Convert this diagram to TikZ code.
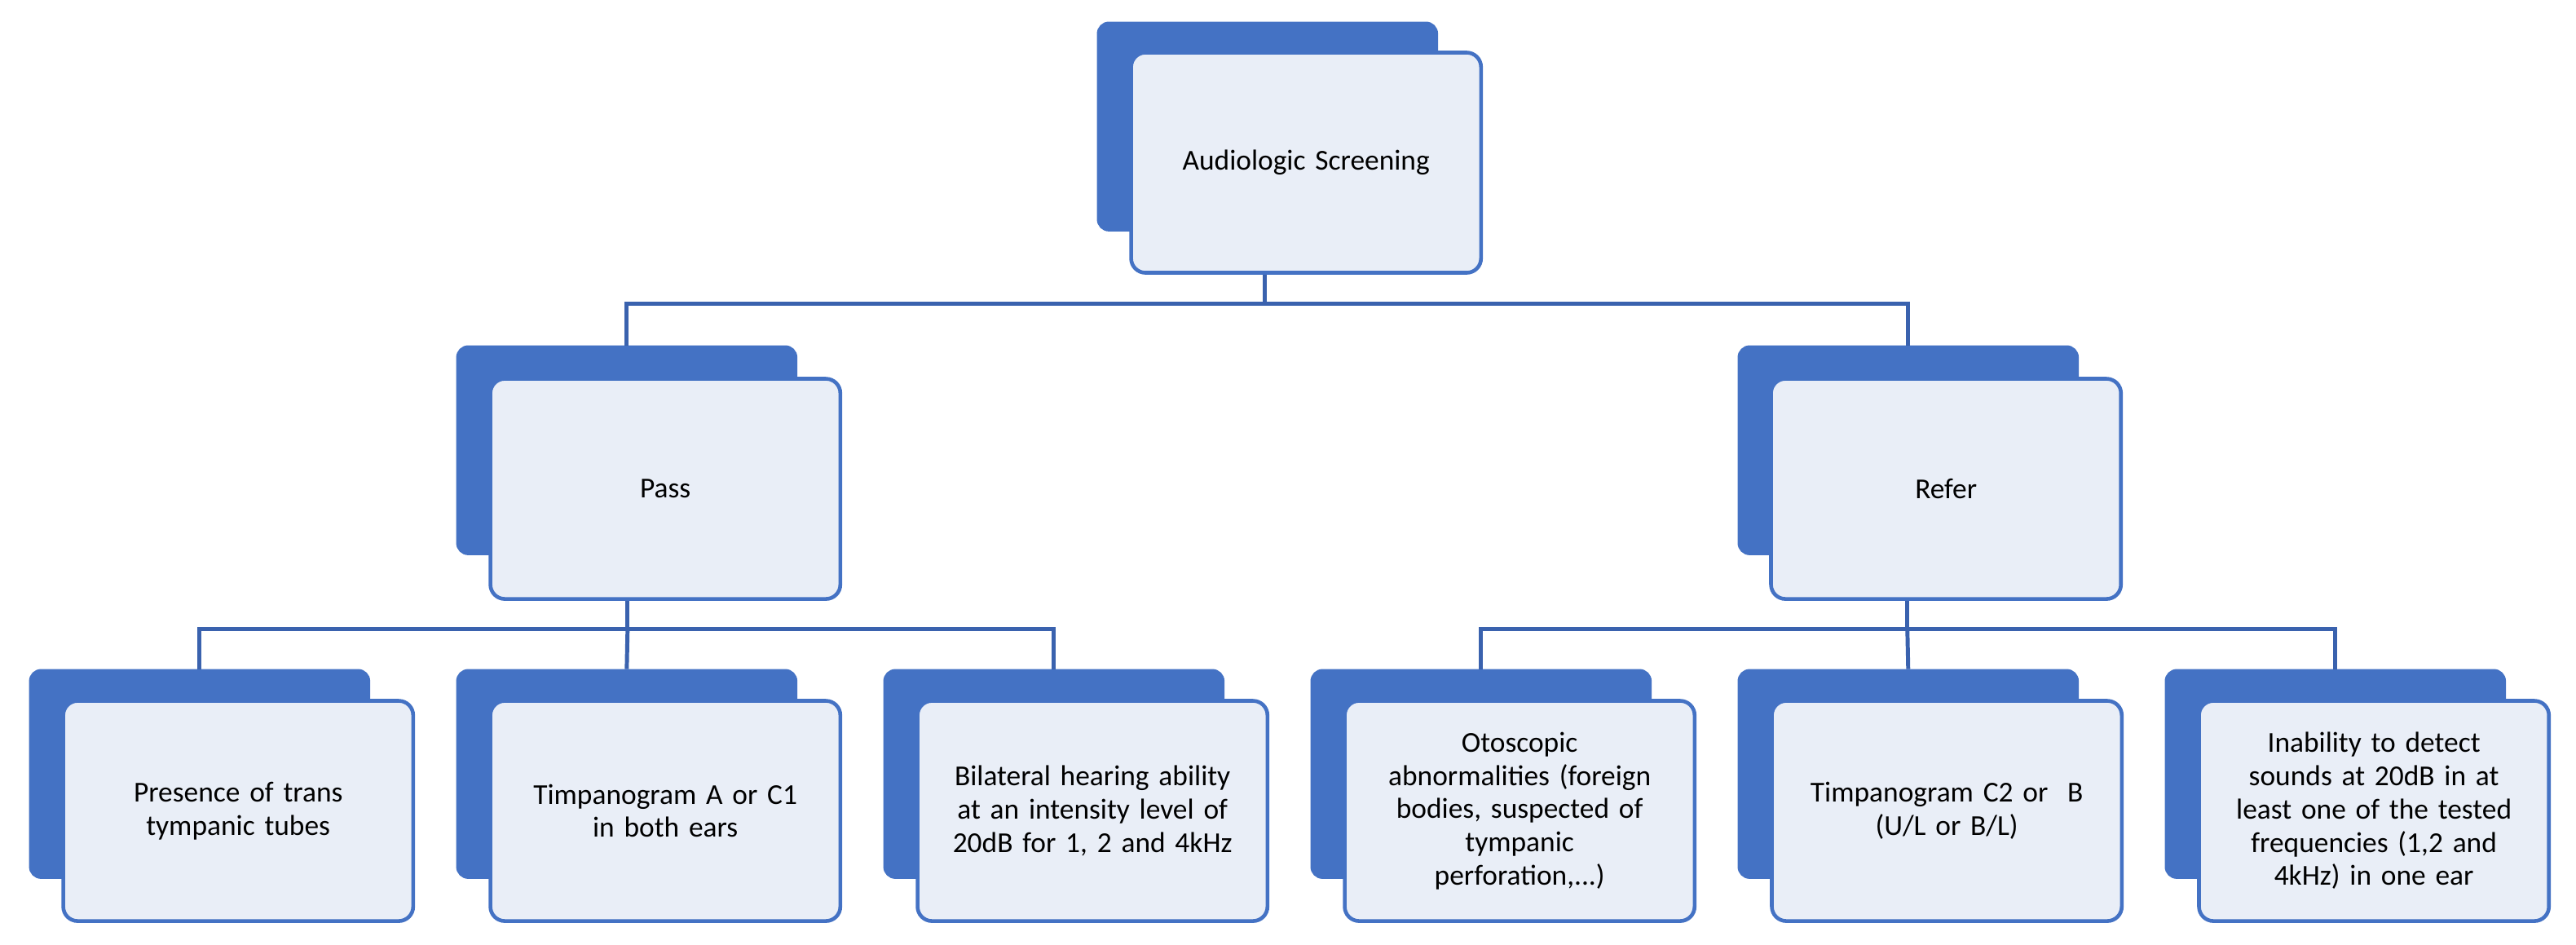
\documentclass[tikz,border=0pt]{standalone}
\usepackage{fontspec}
\setmainfont{Carlito}
\begin{document}
\begin{tikzpicture}[x=0.02cm,y=-0.02cm,
 back/.style={fill=blue1,draw=blue1,rounded corners=4pt,minimum width=207*0.02cm,minimum height=127*0.02cm,inner sep=0},
 front/.style={fill=light,draw=blue1,line width=1.3pt,rounded corners=5pt,minimum width=213*0.02cm,minimum height=134*0.02cm,align=center,text width=3.8cm,font=\fontsize{10}{11.5}\selectfont,inner sep=0},
 conn/.style={draw=blue2,line width=1.4pt}]
\definecolor{blue1}{HTML}{4472C4}
\definecolor{blue2}{HTML}{3A62AE}
\definecolor{light}{HTML}{E9EEF7}
\useasboundingbox (0,0) rectangle (1568,575);
% top
\node[back] (tb) at (771.5,77) {};
\node[front] (tf) at (795,99) {Audiologic Screening};
\node[back] (pb) at (381.5,274) {};
\node[front] (pf) at (405,297.5) {Pass};
\node[back] (rb) at (1161.5,274) {};
\node[front] (rf) at (1184.5,297.5) {Refer};
\foreach \n/\x/\t in {a/121.5/{Presence of trans\\tympanic tubes},b/381.5/{Timpanogram A or C1\\in both ears},c/641.5/{Bilateral hearing ability\\at an intensity level of\\20dB for 1, 2 and 4kHz},d/901.5/{Otoscopic\\abnormalities (foreign\\bodies, suspected of\\tympanic\\perforation,...)},e/1161.5/{Timpanogram C2 or\ \ B\\(U/L or B/L)},f/1421.5/{Inability to detect\\sounds at 20dB in at\\least one of the tested\\frequencies (1,2 and\\4kHz) in one ear}}{
 \node[back] (\n b) at (\x,471) {};
 \node[front] (\n f) at (\x+23.5,493.5) {\t};
}
\coordinate (j0) at (770,185);
\draw[conn] (tf.south-|j0) -- (j0) -| (pb.north);
\draw[conn] (j0) -| (rb.north);
\coordinate (j1) at (382,383);
\draw[conn] (pf.south-|j1) -- (j1) -| (ab.north);
\draw[conn] (j1) -| (cb.north);
\draw[conn] (j1) -- (bb.north);
\coordinate (j2) at (1161,383);
\draw[conn] (rf.south-|j2) -- (j2) -| (db.north);
\draw[conn] (j2) -| (fb.north);
\draw[conn] (j2) -- (eb.north);
\end{tikzpicture}
\end{document}
